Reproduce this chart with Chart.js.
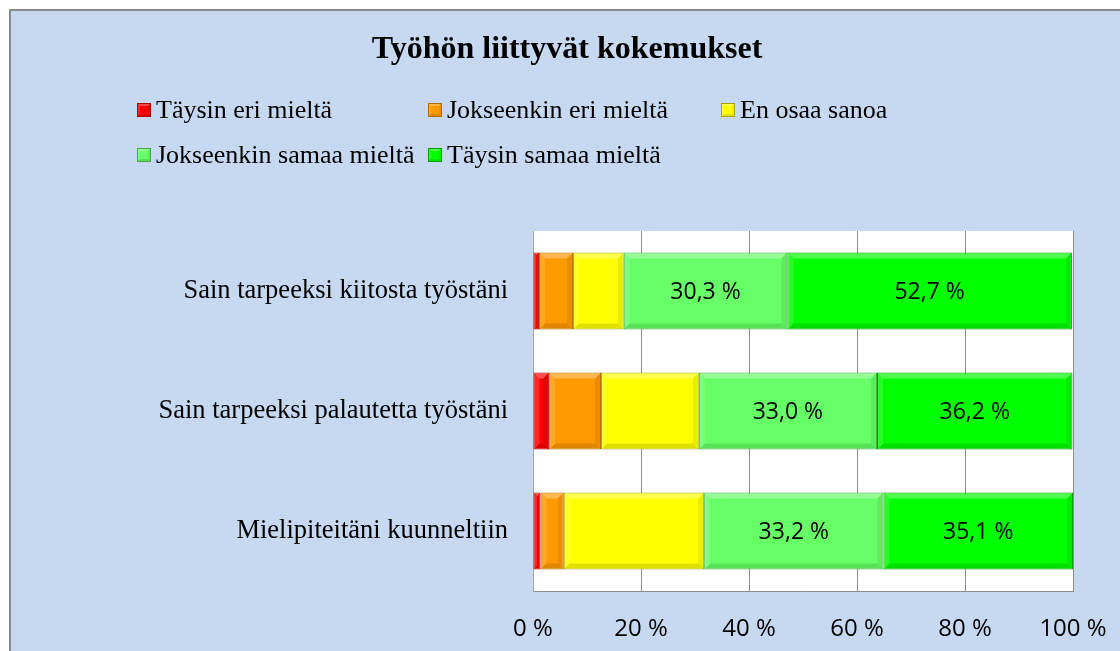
<!DOCTYPE html>
<html>
<head>
<meta charset="utf-8">
<script src="https://cdn.jsdelivr.net/npm/chart.js@4"></script>
<style>
  html, body { margin: 0; padding: 0; background: #ffffff; }
  #wrap { position: relative; width: 1120px; height: 651px; }
</style>
</head>
<body>
<div id="wrap"><canvas id="chart" width="1120" height="651"></canvas></div>
<script>
// Chart data
const categories = ['Sain tarpeeksi kiitosta työstäni', 'Sain tarpeeksi palautetta työstäni', 'Mielipiteitäni kuunneltiin'];
const seriesNames = ['Täysin eri mieltä', 'Jokseenkin eri mieltä', 'En osaa sanoa', 'Jokseenkin samaa mieltä', 'Täysin samaa mieltä'];
const taysinEri = [1.1, 3.0, 1.4];
const jokseenkinEri = [6.3, 9.6, 4.3];
const enOsaa = [9.4, 18.1, 26.0];
const jokseenkinSamaa = [30.3, 33.0, 33.2];
const taysinSamaa = [52.7, 36.2, 35.1];
const xTicks = [0, 20, 40, 60, 80, 100];

const fills = ['#ff0000', '#ff9900', '#ffff00', '#66ff66', '#00ff00'];
const edges = ['#b30000', '#b36b00', '#a6a600', '#47a847', '#00a000'];
const labelled = [false, false, false, true, true];

const serif = "'Liberation Serif', 'Times New Roman', serif";
const sans = "'Open Sans', 'Noto Sans', sans-serif";

function fmt(v) {
    return v.toFixed(1).replace('.', ',') + ' %';
}

// Background, frame and white plot area
const backdrop = {
    id: 'backdrop',
    beforeDraw(chart) {
        const c = chart.ctx;
        const a = chart.chartArea;
        c.save();
        c.fillStyle = '#ffffff';
        c.fillRect(0, 0, chart.width, chart.height);
        c.fillStyle = '#c6d9f1';
        c.fillRect(10, 10, chart.width - 10, chart.height - 10);
        c.fillStyle = '#8a8a8a';
        c.fillRect(9, 9, chart.width - 9, 2);
        c.fillRect(9, 9, 2, chart.height - 9);
        c.fillStyle = '#ffffff';
        c.fillRect(a.left, a.top, a.right - a.left, a.bottom - a.top);
        c.restore();
    }
};

// bevel shading on every bar segment
function bevel(c, x0, y0, x1, y1, w) {
    const tri = (pts, style) => {
        c.beginPath();
        c.moveTo(pts[0][0], pts[0][1]);
        for (let k = 1; k < pts.length; k++) c.lineTo(pts[k][0], pts[k][1]);
        c.closePath();
        c.fillStyle = style;
        c.fill();
    };
    w = Math.min(w, (x1 - x0) / 2);
    tri([[x0, y0], [x1, y0], [x1 - w, y0 + w], [x0 + w, y0 + w]], 'rgba(255,255,255,0.30)');
    tri([[x0, y0], [x0 + w, y0 + w], [x0 + w, y1 - w], [x0, y1]], 'rgba(255,255,255,0.15)');
    tri([[x0, y1], [x0 + w, y1 - w], [x1 - w, y1 - w], [x1, y1]], 'rgba(0,0,0,0.12)');
    tri([[x1, y0], [x1, y1], [x1 - w, y1 - w], [x1 - w, y0 + w]], 'rgba(0,0,0,0.08)');
}

const bevels = {
    id: 'bevels',
    afterDatasetsDraw(chart) {
        const c = chart.ctx;
        c.save();
        chart.data.datasets.forEach((ds, i) => {
            chart.getDatasetMeta(i).data.forEach(bar => {
                const x0 = Math.min(bar.x, bar.base), x1 = Math.max(bar.x, bar.base);
                const y0 = bar.y - bar.height / 2, y1 = bar.y + bar.height / 2;
                bevel(c, x0 + 1, y0 + 1, x1 - 1, y1 - 1, 5);
            });
        });
        c.restore();
    }
};

// Title and Excel-like legend in columns
const titleLegend = {
    id: 'titleLegend',
    afterDraw(chart) {
        const c = chart.ctx;
        c.save();
        c.fillStyle = '#000000';
        c.font = 'bold 32px ' + serif;
        c.textAlign = 'center';
        c.textBaseline = 'middle';
        c.fillText('Työhön liittyvät kokemukset', 567, 50);

        const spots = [[137, 110], [428, 110], [721, 110], [137, 155], [428, 155]];
        c.font = '26px ' + serif;
        c.textAlign = 'left';
        chart.data.datasets.forEach((ds, i) => {
            const [x, y] = spots[i];
            c.fillStyle = ds.backgroundColor;
            c.fillRect(x, y - 7, 14, 14);
            bevel(c, x, y - 7, x + 14, y + 7, 3);
            c.strokeStyle = ds.borderColor;
            c.lineWidth = 1;
            c.strokeRect(x + 0.5, y - 6.5, 13, 13);
            c.fillStyle = '#000000';
            c.fillText(ds.label, x + 19, y + 1);
        });
        c.restore();
    }
};

// Value labels on the agreeing segments
const valueLabels = {
    id: 'valueLabels',
    afterDatasetsDraw(chart) {
        const c = chart.ctx;
        c.save();
        c.fillStyle = '#000000';
        c.font = '23px ' + sans;
        c.textAlign = 'center';
        c.textBaseline = 'middle';
        chart.data.datasets.forEach((ds, i) => {
            if (!labelled[i]) return;
            const meta = chart.getDatasetMeta(i);
            meta.data.forEach((bar, j) => {
                const mid = (bar.x + bar.base) / 2;
                c.fillText(fmt(ds.data[j]), mid, bar.y + 1);
            });
        });
        c.restore();
    }
};

const seriesValues = [taysinEri, jokseenkinEri, enOsaa, jokseenkinSamaa, taysinSamaa];

const config = {
    type: 'bar',
    data: {
        labels: categories,
        datasets: seriesNames.map((name, i) => ({
            label: name,
            data: seriesValues[i],
            backgroundColor: fills[i],
            borderColor: edges[i],
            borderWidth: 1,
            borderSkipped: false,
            categoryPercentage: 1,
            barPercentage: 0.64
        }))
    },
    options: {
        indexAxis: 'y',
        responsive: false,
        animation: false,
        layout: {
            padding: { top: 231, right: 47, bottom: 0, left: 0 }
        },
        plugins: {
            legend: { display: false },
            title: { display: false },
            tooltip: { enabled: false }
        },
        scales: {
            x: {
                stacked: true,
                min: 0,
                max: 100,
                afterBuildTicks(scale) {
                    scale.ticks = xTicks.map(v => ({ value: v }));
                },
                afterFit(scale) {
                    scale.height = 60;
                    scale.paddingLeft = 0;
                    scale.paddingRight = 0;
                },
                grid: {
                    color: '#8c8c8c',
                    lineWidth: 1,
                    drawTicks: false
                },
                border: { display: true, color: '#8c8c8c', width: 1 },
                ticks: {
                    padding: 24,
                    color: '#000000',
                    font: { size: 24, family: sans },
                    callback: v => v + ' %'
                }
            },
            y: {
                stacked: true,
                afterFit(scale) {
                    scale.width = 533;
                    scale.paddingTop = 0;
                    scale.paddingBottom = 0;
                },
                grid: { display: false, drawTicks: false },
                border: { display: true, color: '#a6a6a6', width: 1 },
                ticks: {
                    padding: 25,
                    color: '#000000',
                    font: { size: 26.5, family: serif }
                }
            }
        }
    },
    plugins: [backdrop, bevels, valueLabels, titleLegend]
};

new Chart(document.getElementById('chart'), config);
</script>
</body>
</html>
